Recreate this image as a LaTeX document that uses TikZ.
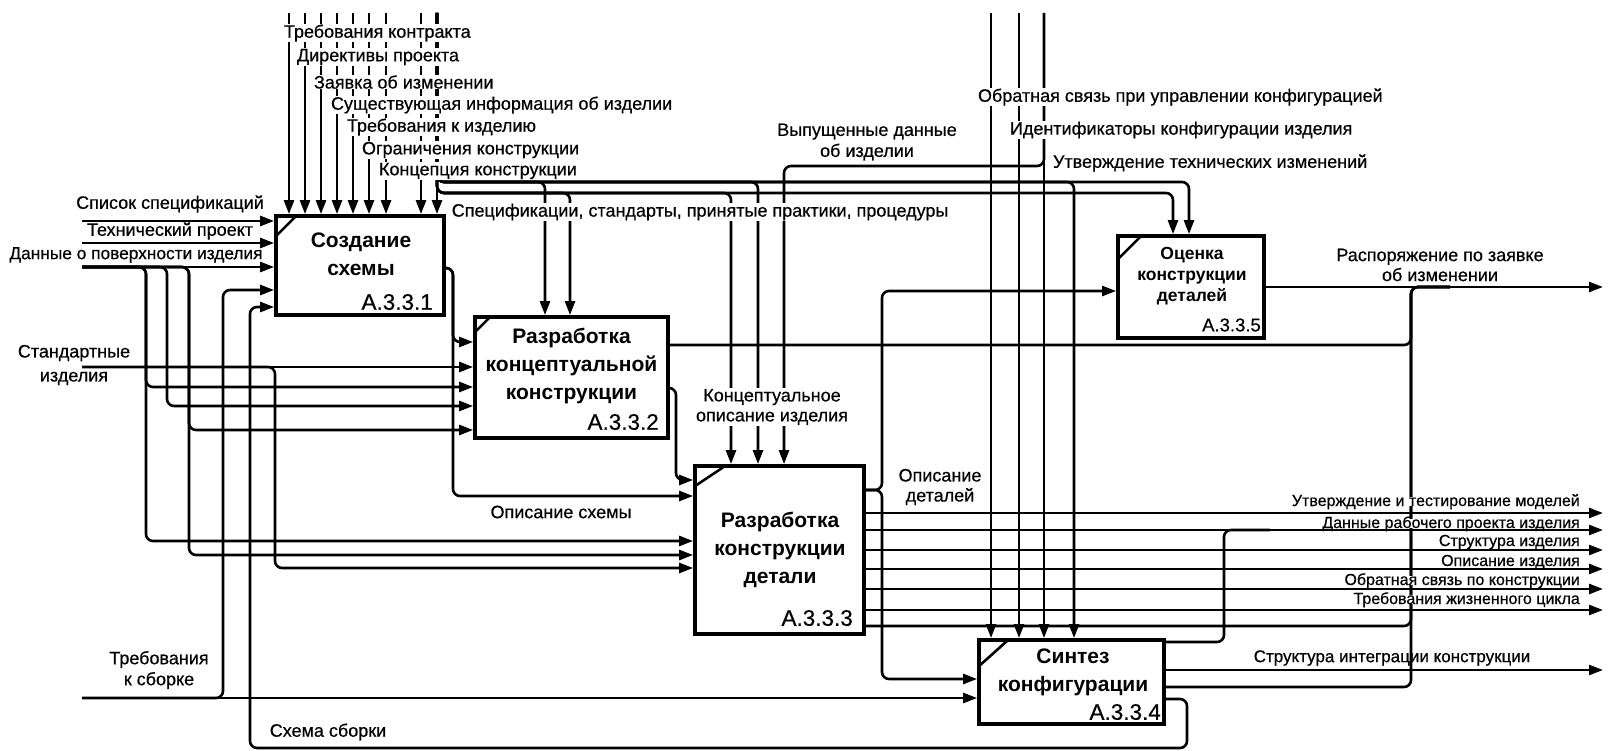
\documentclass[tikz,border=0pt]{standalone}
\usepackage{fontspec}
\setmainfont{Liberation Sans}
\newfontfamily\lblfam{Liberation Sans}[FakeBold=0.5]
\usetikzlibrary{arrows.meta}
\newcommand\lblfont{\lblfam\fontsize{18}{21}\selectfont}
\newcommand\lblf[1]{\lblfam\fontsize{18}{#1}\selectfont}
\newcommand\outfont{\lblfam\fontsize{16}{19}\selectfont}
\newcommand\ttlfont{\fontsize{21}{28}\selectfont\bfseries}
\newcommand\ttlsfont{\fontsize{17.5}{21}\selectfont\bfseries}
\newcommand\idfont{\lblfam\fontsize{22.5}{24}\selectfont}
\newcommand\idsfont{\lblfam\fontsize{18.5}{20}\selectfont}
\begin{document}
\begin{tikzpicture}[x=1pt,y=-1pt,
  box/.style={draw,line width=3.8pt,inner sep=0pt},
  flow/.style={line width=2.6pt,rounded corners=7pt},
  arr/.style={flow,-{Triangle[length=14pt,width=10pt]}},
  lbl/.style={fill=white,inner sep=0.8pt,font=\lblfont},
  lbn/.style={inner sep=0pt,font=\lblfont,align=center},
  lbr/.style={fill=white,inner sep=0pt,font=\outfont,text height=9pt,text depth=0pt,anchor=base east},
  ttl/.style={align=center,font=\ttlfont},
  idn/.style={font=\idfont,anchor=east,inner sep=0pt}]
\useasboundingbox (0,0) rectangle (1611,751);
\fill[white] (0,0) rectangle (1611,751);

% boxes
\node[box,minimum width=168pt,minimum height=99pt] (b1) at (360,265.5) {};
\node[box,minimum width=193pt,minimum height=121pt] (b2) at (571.5,377.5) {};
\node[box,minimum width=169pt,minimum height=168pt] (b3) at (779.5,550) {};
\node[box,minimum width=185pt,minimum height=84pt] (b4) at (1071.5,682) {};
\node[box,minimum width=146pt,minimum height=102pt] (b5) at (1191,287) {};
\foreach \b/\dx/\dy in {b1/22/22,b2/17/17,b3/32/22,b4/31/28,b5/25/25}
  \draw[line width=2.6pt] ([xshift=1.9pt,yshift=-\dy pt]\b.north west) -- ([xshift=\dx pt,yshift=-1.9pt]\b.north west);

% titles and ids
\node[ttl] (t1) at (361,254) {Создание\\схемы};
\node[ttl] (t2) at (571.5,365.5) {Разработка\\концептуальной\\конструкции};
\node[ttl] (t3) at (780,549.5) {Разработка\\конструкции\\детали};
\node[ttl] (t4) at (1073,672) {Синтез\\конфигурации};
\node[align=center,font=\ttlsfont] (t5) at (1192,276) {Оценка\\конструкции\\деталей};
\node[idn] (i1) at (433,302) {А.3.3.1};
\node[idn] (i2) at (659,422) {А.3.3.2};
\node[idn] (i3) at (853,618) {А.3.3.3};
\node[idn] (i4) at (1161,712) {А.3.3.4};
\node[idn,font=\idsfont] (i5) at (1261,325) {А.3.3.5};

% free ends
\coordinate (s1) at (82,221);
\coordinate (s2) at (82,243);
\coordinate (s3) at (82,267);
\coordinate (s4) at (82,367);
\coordinate (s5) at (82,698);
\foreach \x in {289,305,321,337,353,369,386,421,437} \coordinate (c\x) at (\x,13);
\coordinate (d1) at (991,13);
\coordinate (d2) at (1019,13);
\coordinate (d3) at (1044,13);
\coordinate (o0) at (1603,287);
\foreach \y/\n in {513/1,530/2,550/3,569/4,589/5,610/6,670/7} \coordinate (o\n) at (1603,\y);

% inputs to box 1
\draw[arr] (s1) -- (s1 -| b1.west);
\draw[arr] (s2) -- (s2 -| b1.west);
\draw[arr] (s3) -- (s3 -| b1.west);
\draw[arr] (s3) -- (146,267) -- (146,387) -- (b2.west |- 0,387);
\draw[arr] (s3) -- (146,267) -- (146,541) -- (b3.west |- 0,541);
\draw[arr] (s3) -- (167,267) -- (167,406) -- (b2.west |- 0,406);
\draw[arr] (s3) -- (189,267) -- (189,430) -- (b2.west |- 0,430);
\draw[arr] (s3) -- (189,267) -- (189,555) -- (b3.west |- 0,555);
\draw[arr] (s4) -- (s4 -| b2.west);
\draw[arr] (s4) -- (275,367) -- (275,568) -- (b3.west |- 0,568);
\draw[arr] (s5) -- (s5 -| b4.west);
\draw[arr] (s5) -- (223,698) -- (223,290) -- (b1.west |- 0,290);
\draw[arr] (b4.east |- 0,699) -- (1187,699) -- (1187,748) -- (250,748) -- (250,307) -- (b1.west |- 0,307);

% controls
\foreach \x in {289,305,321,337,353,369,386,421,437} \draw[arr] (c\x) -- (c\x |- b1.north);
\draw[arr] (c437) -- (437,182) -- (545,182) -- (545,0 |- b2.north);
\draw[arr] (c437) -- (437,193) -- (570,193) -- (570,0 |- b2.north);
\draw[arr] (c437) -- (437,193) -- (731,193) -- (731,0 |- b3.north);
\draw[arr] (c437) -- (437,182) -- (758,182) -- (758,0 |- b3.north);
\draw[arr] (c437) -- (437,182) -- (1074,182) -- (1074,0 |- b4.north);
\draw[arr] (c437) -- (437,182) -- (1189,182) -- (1189,0 |- b5.north);
\draw[arr] (c437) -- (437,193) -- (1173,193) -- (1173,0 |- b5.north);
\draw[arr] (d1) -- (d1 |- b4.north);
\draw[arr] (d2) -- (d2 |- b4.north);
\draw[arr] (d3) -- (d3 |- b4.north);
\draw[arr] (d3) -- (1044,166) -- (784,166) -- (784,0 |- b3.north);

% box 1 and 2 outputs
\draw[arr] (b1.east |- 0,268) -- (453,268) -- (453,342) -- (b2.west |- 0,342);
\draw[arr] (b1.east |- 0,268) -- (453,268) -- (453,496) -- (b3.west |- 0,496);
\draw[arr] (b2.east |- 0,388) -- (676,388) -- (676,480) -- (b3.west |- 0,480);
\draw[flow] (b2.east |- 0,345) -- (1411,345) -- (1411,287) -- (1450,287);

% box 3 outputs
\draw[arr] (b3.east |- 0,490) -- (882,490) -- (882,291) -- (b5.west |- 0,291);
\draw[arr] (b3.east |- 0,490) -- (882,490) -- (882,679) -- (b4.west |- 0,679);
\foreach \y/\n in {513/1,530/2,550/3,569/4,589/5,610/6} \draw[arr] (b3.east |- 0,\y) -- (o\n);
\draw[flow] (b3.east |- 0,626) -- (1411,626) -- (1411,287) -- (1450,287);

% box 4 and 5 outputs
\draw[flow] (b4.east |- 0,642) -- (1224,642) -- (1224,530) -- (1270,530);
\draw[arr] (b4.east |- 0,670) -- (o7);
\draw[flow] (b4.east |- 0,687) -- (1411,687) -- (1411,287) -- (1450,287);
\draw[arr] (b5.east |- 0,287) -- (o0);

% labels
\node[lbl,anchor=west] (l1) at (283,33) {Требования контракта};
\node[lbl,anchor=west] (l2) at (296,57) {Директивы проекта};
\node[lbl,anchor=west] (l3) at (313,82) {Заявка об изменении};
\node[lbl,anchor=west] (l4) at (330,105) {Существующая информация об изделии};
\node[lbl,anchor=west] (l5) at (346,127) {Требования к изделию};
\node[lbl,anchor=west] (l6) at (361,150) {Ограничения конструкции};
\node[lbl,anchor=west] (l7) at (378,171) {Концепция конструкции};
\node[lbn] (l8) at (170,204) {Список спецификаций};
\node[lbn] (l9) at (170,231) {Технический проект};
\node[lbn,font={\lblfam\fontsize{17.3}{20}\selectfont}] (l10) at (136,255) {Данные о поверхности изделия};
\node[lbn,font={\lblf{24}}] (l11) at (74,365) {Стандартные\\изделия};
\node[lbn,font={\lblf{21}}] (l12) at (159,670) {Требования\\к сборке};
\node[lbn] (l13) at (328,732) {Схема сборки};
\node[lbn] (l14) at (561,512) {Описание схемы};
\node[lbl] (l15) at (700,212) {Спецификации, стандарты, принятые практики, процедуры};
\node[lbn,font={\lblf{21}}] (l16) at (867,142) {Выпущенные данные\\об изделии};
\node[lbl,align=center,font={\lblf{20}}] (l17) at (772,407) {Концептуальное\\описание изделия};
\node[lbn,font={\lblf{20}}] (l18) at (940,487) {Описание\\деталей};
\node[lbl,anchor=west] (l19) at (977,97) {Обратная связь при управлении конфигурацией};
\node[lbl,anchor=west] (l20) at (1009,130) {Идентификаторы конфигурации изделия};
\node[lbl,anchor=west] (l21) at (1052,163) {Утверждение технических изменений};
\node[lbn,font={\lblf{20}}] (l22) at (1440,265) {Распоряжение по заявке\\об изменении};
\node[lbr] (l23) at (1580,506) {Утверждение и тестирование моделей};
\node[lbr] (l24) at (1580,528) {Данные рабочего проекта изделия};
\node[lbr] (l25) at (1580,546) {Структура изделия};
\node[lbr] (l26) at (1580,566) {Описание изделия};
\node[lbr] (l27) at (1580,585) {Обратная связь по конструкции};
\node[lbr] (l28) at (1580,604) {Требования жизненного цикла};
\node[lbn,font={\lblfam\fontsize{17}{20}\selectfont}] (l29) at (1392,658) {Структура интеграции конструкции};
\end{tikzpicture}
\end{document}
